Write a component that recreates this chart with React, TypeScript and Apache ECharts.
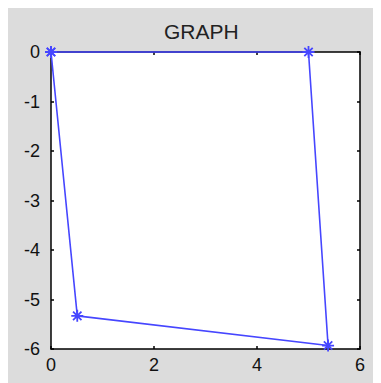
import React, { useEffect, useRef } from "react";
import * as echarts from "echarts";

const xValues = [0, 5.0, 5.38, 0.51, 0];
const yValues = [0, 0, -5.93, -5.33, 0];
const titleText = "GRAPH";

const BLUE = "#4646ff";
const STAR =
  "path://M5 0 L5 10 M0 5 L10 5 M1.5 1.5 L8.5 8.5 M1.5 8.5 L8.5 1.5";

export default function App() {
  const ref = useRef<HTMLDivElement>(null);
  useEffect(() => {
    if (!ref.current) return;
    const chart = echarts.init(ref.current, undefined, { renderer: "svg" });
    const font = "'Liberation Sans', Arial, sans-serif";
    const axisCommon = {
      type: "value" as const,
      axisLine: { show: true, onZero: false, lineStyle: { color: "#000", width: 1.5 } },
      axisTick: { show: true, inside: true, length: 3, lineStyle: { color: "#000", width: 1.5 } },
      splitLine: { show: false },
    };
    chart.setOption({
      animation: false,
      backgroundColor: "#dcdcdc",
      title: {
        text: titleText,
        left: 151,
        top: 8,
        textStyle: { fontFamily: font, fontSize: 21, fontWeight: "normal", color: "#222" },
      },
      grid: { left: 43, top: 44, right: 21, bottom: 34, backgroundColor: "#fff", show: true, borderWidth: 0 },
      xAxis: [
        {
          ...axisCommon,
          min: 0,
          max: 6,
          interval: 2,
          position: "bottom",
          axisLabel: { fontFamily: font, fontSize: 18, color: "#111", margin: 7 },
        },
        {
          ...axisCommon,
          min: 0,
          max: 6,
          interval: 2,
          position: "top",
          axisLabel: { show: false },
        },
      ],
      yAxis: [
        {
          ...axisCommon,
          min: -6,
          max: 0,
          interval: 1,
          position: "left",
          axisLabel: { fontFamily: font, fontSize: 18, color: "#111", margin: 11 },
        },
        {
          ...axisCommon,
          min: -6,
          max: 0,
          interval: 1,
          position: "right",
          axisLabel: { show: false },
        },
      ],
      series: [
        {
          type: "line",
          data: xValues.map((x, i) => [x, yValues[i]]),
          symbol: STAR,
          symbolSize: 12,
          showAllSymbol: true,
          clip: false,
          lineStyle: { color: BLUE, width: 1.6 },
          itemStyle: { color: BLUE, borderColor: BLUE, borderWidth: 1.8 },
          z: 10,
        },
      ],
    });
    return () => chart.dispose();
  }, []);
  return <div ref={ref} style={{ width: 373, height: 375 }} />;
}
